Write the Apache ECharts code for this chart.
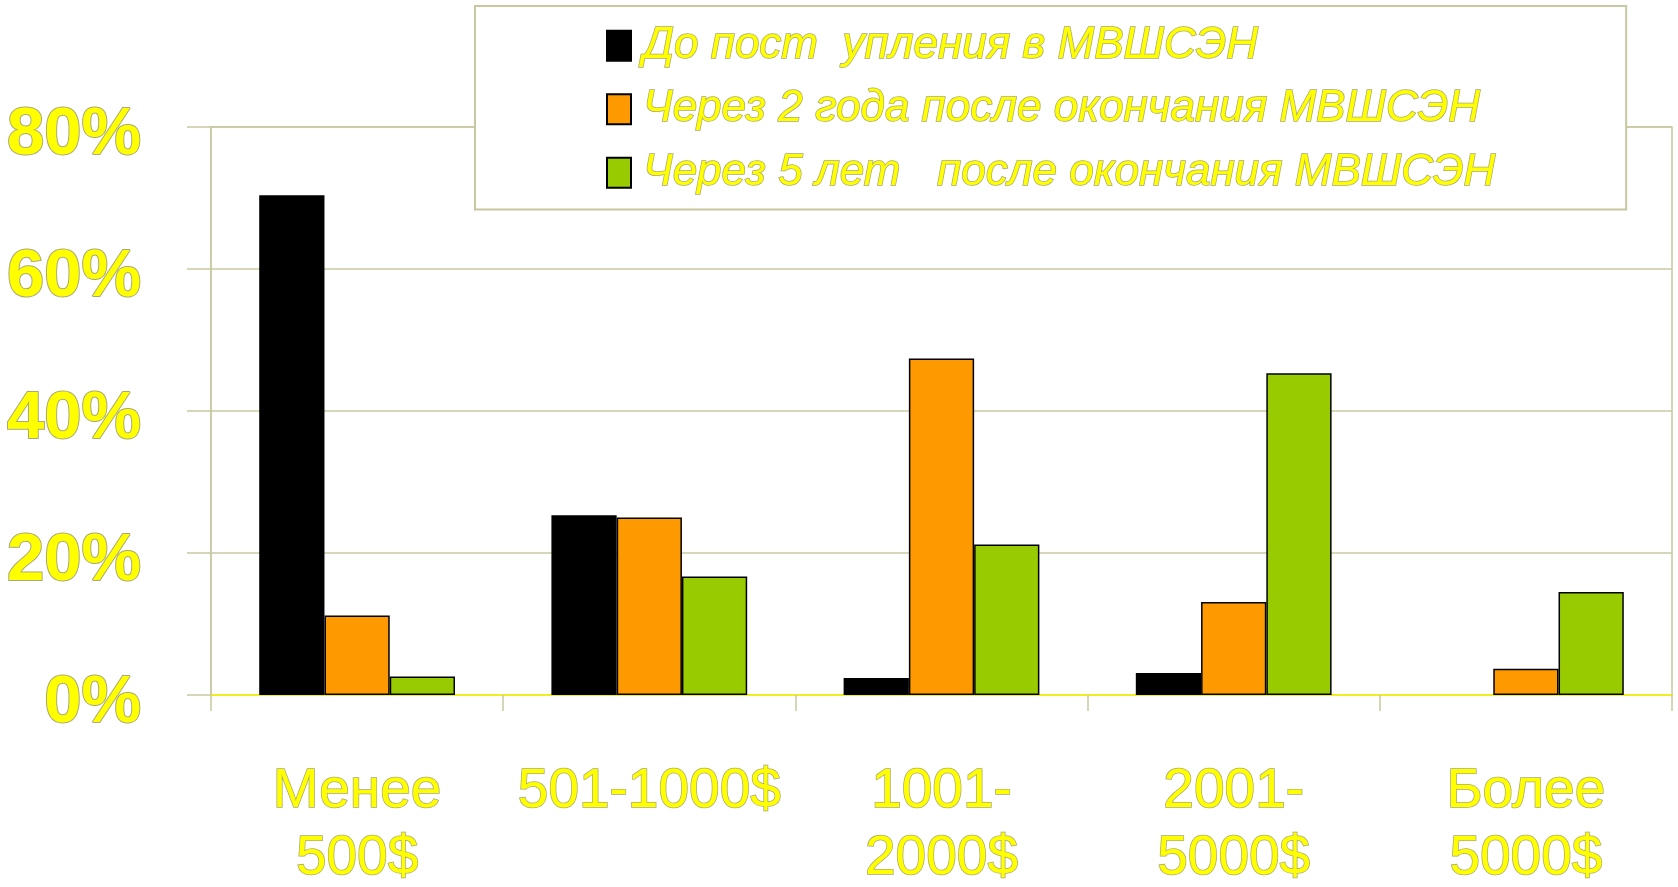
<!DOCTYPE html>
<html>
<head>
<meta charset="utf-8">
<script src="https://cdn.jsdelivr.net/npm/echarts@6/dist/echarts.min.js"></script>
<style>
  html, body { margin: 0; padding: 0; background: #fff; }
  #main { width: 1678px; height: 887px; }
</style>
</head>
<body>
<div id="main"></div>
<script>
const categories = ['Менее\n500$', '501-1000$', '1001-\n2000$', '2001-\n5000$', 'Более\n5000$'];
const seriesNames = [
  'До пост  упления в МВШСЭН',
  'Через 2 года после окончания МВШСЭН',
  'Через 5 лет   после окончания МВШСЭН'
];
const beforeValues = [70.4, 25.3, 2.4, 3.1, 0];
const after2Values = [11.2, 25.0, 47.4, 13.1, 3.7];
const after5Values = [2.6, 16.7, 21.2, 45.3, 14.5];
const yTicks = [0, 20, 40, 60, 80];

const basicColor = ['#000000', '#ff9900', '#99cc00'];
const lineColor = '#c8c8a0';
const sans = "'Liberation Sans', Arial, sans-serif";

const myChart = echarts.init(document.getElementById('main'));

// zero values get no border, so no stray line on the axis
const makeBar = (name, data, color) => ({
  name,
  type: 'bar',
  data: data.map((v) => (v === 0 ? { value: v, itemStyle: { borderWidth: 0 } } : v)),
  barGap: '0%',
  barCategoryGap: '33%',
  itemStyle: { color, borderColor: '#000', borderWidth: 1.5 },
});

const yLabelStyle = {
  fontFamily: sans,
  fontWeight: 'bold',
  fontSize: 67,
  color: '#ffff00',
  textBorderColor: '#a8a878',
  textBorderWidth: 2,
  padding: [18, 0, 0, 0],
};

const option = {
  backgroundColor: '#fff',
  animation: false,
  grid: {
    left: 211,
    right: 6,
    top: 127,
    bottom: 192,
    outerBoundsMode: 'none',
    containLabel: false,
    show: true,
    borderColor: lineColor,
    borderWidth: 1.5,
  },
  legend: {
    orient: 'vertical',
    left: 475,
    top: 6,
    icon: 'rect',
    itemWidth: 24,
    itemHeight: 30,
    itemGap: 18,
    backgroundColor: '#fff',
    borderColor: lineColor,
    borderWidth: 2,
    padding: [17, 130, 14, 131],
    textStyle: {
      fontFamily: sans,
      fontStyle: 'italic',
      fontSize: 44,
      color: '#ffff00',
      textBorderColor: '#a8a878',
      textBorderWidth: 1.5,
      padding: [0, 0, 0, 7],
    },
  },
  xAxis: {
    type: 'category',
    data: categories,
    axisLine: { lineStyle: { color: '#eeee22', width: 2 } },
    axisTick: { show: true, length: 16, lineStyle: { color: lineColor, width: 1.5 } },
    axisLabel: {
      margin: 63,
      fontFamily: sans,
      fontSize: 55,
      lineHeight: 67,
      color: '#ffff00',
      textBorderColor: '#a8a878',
      textBorderWidth: 1.5,
      interval: 0,
    },
  },
  yAxis: {
    type: 'value',
    min: yTicks[0],
    max: yTicks[yTicks.length - 1],
    interval: 20,
    axisLine: { show: true, lineStyle: { color: lineColor, width: 1.5 } },
    axisTick: { show: true, length: 24, lineStyle: { color: lineColor, width: 1.5 } },
    splitLine: { lineStyle: { color: lineColor, width: 1.5 } },
    axisLabel: {
      margin: 70,
      formatter: '{v|{value}%}',
      rich: { v: yLabelStyle },
    },
  },
  series: [
    makeBar(seriesNames[0], beforeValues, basicColor[0]),
    makeBar(seriesNames[1], after2Values, basicColor[1]),
    makeBar(seriesNames[2], after5Values, basicColor[2]),
  ],
};

myChart.setOption(option);
</script>
</body>
</html>
